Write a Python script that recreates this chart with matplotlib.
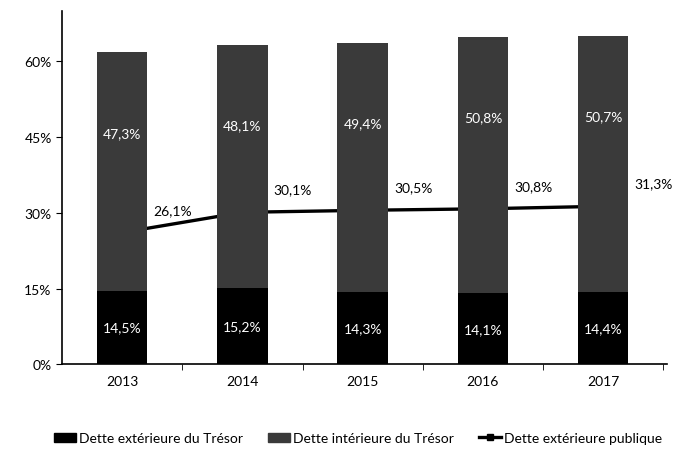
import numpy as np
import matplotlib
matplotlib.use('Agg')
import matplotlib.pyplot as plt
from matplotlib.lines import Line2D
from matplotlib.patches import Patch

plt.rcParams['font.family'] = ['Lato', 'DejaVu Sans']

# donnees (% du PIB)
annees = ['2013', '2014', '2015', '2016', '2017']
ext_tresor = [14.5, 15.2, 14.3, 14.1, 14.4]
int_tresor = [47.3, 48.1, 49.4, 50.8, 50.7]
ext_publique = [26.1, 30.1, 30.5, 30.8, 31.3]

def fr(v):
    return ('%.1f%%' % v).replace('.', ',')

x = np.arange(len(annees))
w = 0.42
gris = '#3a3a3a'

fig = plt.figure(figsize=(6.75, 4.6), dpi=100)
ax = fig.add_axes([0.092, 0.206, 0.896, 0.768])

# ligne derriere les barres
ax.plot(x, ext_publique, color='black', lw=2.4, zorder=1)
ax.bar(x, ext_tresor, w, color='black', zorder=2)
ax.bar(x, int_tresor, w, bottom=ext_tresor, color=gris, zorder=2)

for i in range(len(x)):
    ax.text(x[i], ext_tresor[i] / 2, fr(ext_tresor[i]), color='white',
            ha='center', va='center', fontsize=10, zorder=3)
    tot = ext_tresor[i] + int_tresor[i]
    ax.text(x[i], tot - 16, fr(int_tresor[i]), color='white',
            ha='center', va='center', fontsize=10, zorder=3)
    ax.text(x[i] + 0.42, ext_publique[i] + 4.5, fr(ext_publique[i]),
            color='black', ha='center', va='center', fontsize=10, zorder=3)

ax.set_xlim(-0.5, 4.53)
ax.set_ylim(0, 70)
ax.set_yticks([0, 15, 30, 45, 60])
ax.set_yticklabels(['0%', '15%', '30%', '45%', '60%'], fontsize=10)
ax.set_xticks(x)
ax.set_xticklabels(annees, fontsize=10)
ax.tick_params(axis='x', length=0, pad=8)
ax.set_xticks(np.arange(0.5, 4.6, 1), minor=True)
ax.tick_params(axis='x', which='minor', length=4, direction='out')
ax.tick_params(axis='y', length=4, direction='out')
for s in ['top', 'right']:
    ax.spines[s].set_visible(False)
ax.spines['left'].set_linewidth(1.2)
ax.spines['bottom'].set_linewidth(1.2)

handles = [Patch(color='black', label='Dette extérieure du Trésor'),
           Patch(color=gris, label='Dette intérieure du Trésor'),
           Line2D([], [], color='black', lw=2.4, marker='s', markersize=4,
                  label='Dette extérieure publique')]
fig.legend(handles=handles, loc='center', bbox_to_anchor=(0.53, 0.045),
           ncol=3, frameon=False, fontsize=10, handlelength=1.6,
           handletextpad=0.2, columnspacing=1.8)

fig.savefig('out.png', dpi=100)
